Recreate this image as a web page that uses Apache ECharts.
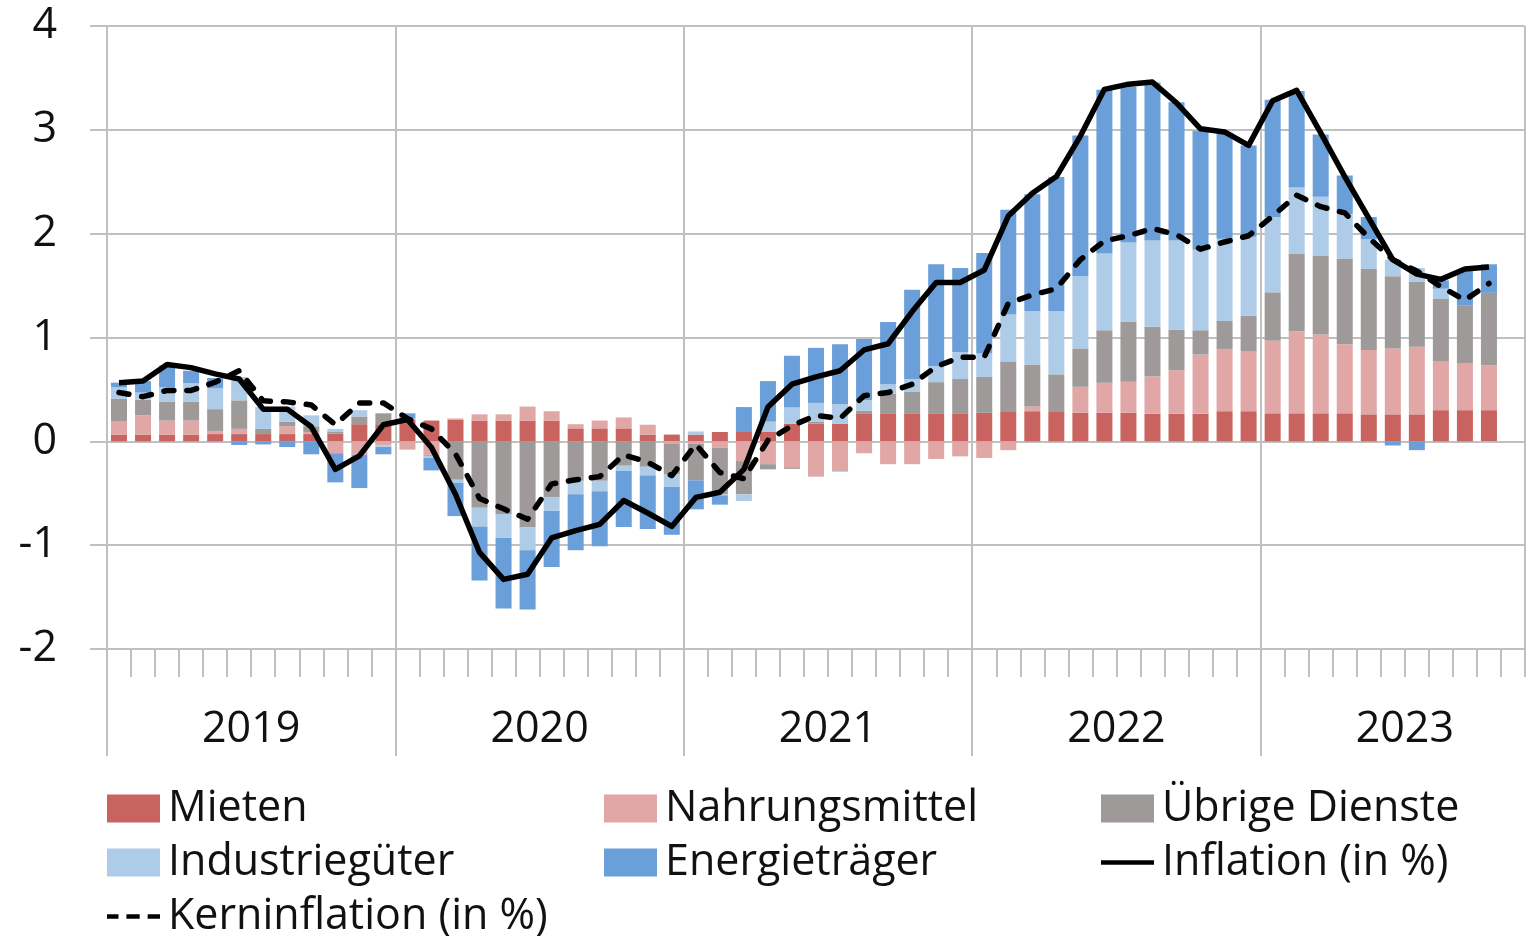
<!DOCTYPE html>
<html>
<head>
<meta charset="utf-8">
<script src="https://cdn.jsdelivr.net/npm/echarts@6/dist/echarts.min.js"></script>
<style>
html, body { margin: 0; padding: 0; background: #fff; }
#chart { width: 1532px; height: 936px; }
</style>
</head>
<body>
<div id="chart"></div>
<script>
// Monatskategorien Jan 2019 - Nov 2023 (letzter Monat leer)
var years = ['2019', '2020', '2021', '2022', '2023'];
var months = [
  '2019-01','2019-02','2019-03','2019-04','2019-05','2019-06','2019-07','2019-08','2019-09','2019-10','2019-11','2019-12',
  '2020-01','2020-02','2020-03','2020-04','2020-05','2020-06','2020-07','2020-08','2020-09','2020-10','2020-11','2020-12',
  '2021-01','2021-02','2021-03','2021-04','2021-05','2021-06','2021-07','2021-08','2021-09','2021-10','2021-11','2021-12',
  '2022-01','2022-02','2022-03','2022-04','2022-05','2022-06','2022-07','2022-08','2022-09','2022-10','2022-11','2022-12',
  '2023-01','2023-02','2023-03','2023-04','2023-05','2023-06','2023-07','2023-08','2023-09','2023-10','2023-11'
];

// Beiträge in Prozentpunkten
var mieten = [
  .065,.065,.065,.065,.07,.07,.07,.07,.07,.075,.165,.165,
  .21,.20,.21,.20,.20,.20,.20,.125,.125,.125,.065,.065,
  .065,.09,.09,.09,.17,.17,.17,.27,.27,.27,.27,.27,
  .275,.29,.29,.29,.275,.275,.275,.265,.265,.265,.29,.29,
  .27,.27,.27,.27,.26,.26,.26,.30,.30,.30
];
var nahrung = [
  .125,.185,.135,.135,.03,.05,0,.075,.02,-.115,-.13,-.04,
  -.08,-.13,.01,.06,.06,.135,.09,.04,.075,.105,.095,-.02,
  -.025,-.06,-.19,-.22,-.25,-.34,-.28,-.115,-.22,-.22,-.17,-.145,
  -.16,-.085,.045,0,.25,.29,.30,.36,.42,.57,.60,.58,
  .70,.79,.76,.665,.62,.635,.65,.47,.455,.43
];
var dienste = [
  .22,.15,.18,.18,.21,.275,.05,.045,.055,.015,.075,.105,
  0,-.01,-.37,-.64,-.70,-.83,-.535,-.38,-.38,-.235,-.245,-.30,
  -.35,-.45,-.32,-.05,-.015,.02,-.01,.025,.19,.21,.30,.33,
  .345,.48,.405,.355,.37,.505,.58,.48,.39,.235,.27,.34,
  .465,.75,.76,.825,.78,.695,.63,.60,.555,.70
];
var industrie = [
  .11,.07,.14,.18,.20,.225,.21,.145,.105,.03,.06,-.015,
  .01,-.02,-.03,-.18,-.23,-.22,-.135,-.13,-.10,-.05,-.085,-.12,
  .03,-.01,-.065,.10,.155,.18,.19,.10,.09,.12,.155,.26,
  .225,.455,.515,.61,.695,.74,.76,.83,.86,.775,.79,.76,
  .725,.635,.565,.43,.285,.16,.13,.10,0,-.01
];
var energie = [
  .045,.11,.21,.12,.10,-.035,-.03,-.055,-.125,-.28,-.32,-.07,
  .05,-.12,-.32,-.52,-.68,-.57,-.54,-.54,-.53,-.54,-.515,-.46,
  -.28,-.09,.24,.39,.50,.53,.575,.59,.60,.86,.98,.81,
  .97,1.005,1.125,1.29,1.355,1.575,1.50,1.52,1.33,1.145,1.025,.88,
  1.13,.93,.60,.37,.215,-.04,-.085,.08,.33,.275
];
var inflation = [
  .565,.58,.74,.71,.65,.60,.31,.31,.14,-.27,-.14,.16,
  .21,-.06,-.51,-1.07,-1.33,-1.28,-.93,-.86,-.80,-.57,-.69,-.82,
  -.54,-.49,-.27,.33,.55,.62,.68,.88,.94,1.25,1.53,1.53,
  1.65,2.17,2.39,2.55,2.94,3.39,3.44,3.46,3.26,3.01,2.98,2.85,
  3.28,3.38,2.97,2.55,2.15,1.75,1.61,1.56,1.66,1.68
];
var kern = [
  .47,.43,.49,.49,.57,.68,.39,.38,.35,.16,.37,.37,
  .22,.12,-.12,-.55,-.65,-.75,-.41,-.37,-.34,-.13,-.20,-.33,
  -.03,-.30,-.36,.01,.15,.25,.22,.44,.47,.55,.72,.81,
  .81,1.33,1.41,1.47,1.75,1.93,1.98,2.05,1.99,1.85,1.92,1.98,
  2.17,2.37,2.26,2.20,1.96,1.75,1.64,1.49,1.36,1.52
];

var FONT = 'Open Sans';
var FONT_SIZE = 43;
var GRID_GREY = '#c0c0c0';

// Jahresachse: Punkte an den Monatsgrenzen, Jahr in der Mitte
var yearAxis = [];
for (var i = 0; i <= months.length; i++) {
  yearAxis.push(i % 12 === 6 ? years[Math.floor(i / 12)] : '');
}

function bar(name, data, color) {
  return {
    name: name, type: 'bar', stack: 'beitrag', data: data,
    barWidth: 16, itemStyle: { color: color }
  };
}

var chart = echarts.init(document.getElementById('chart'));
chart.setOption({
  animation: false,
  textStyle: { fontFamily: FONT },
  grid: { left: 107, right: 7, top: 26, bottom: 287, containLabel: false },
  xAxis: [{
    type: 'category',
    data: months,
    axisLine: { onZero: false, lineStyle: { color: GRID_GREY, width: 2 } },
    axisTick: { show: true, interval: 0, length: 28, lineStyle: { color: GRID_GREY, width: 2 } },
    axisLabel: { show: false },
    splitLine: {
      show: true,
      interval: function (idx) { return idx % 12 === 0; },
      lineStyle: { color: GRID_GREY, width: 2 }
    }
  }, {
    type: 'category',
    position: 'bottom',
    boundaryGap: false,
    data: yearAxis,
    axisLine: { show: false, onZero: false },
    axisTick: {
      show: true, length: 107,
      interval: function (idx) { return idx % 12 === 0; },
      lineStyle: { color: GRID_GREY, width: 2 }
    },
    axisLabel: {
      show: true, interval: 0, margin: 59,
      fontFamily: FONT, fontSize: FONT_SIZE, color: '#111'
    },
    splitLine: { show: false }
  }],
  yAxis: {
    type: 'value',
    min: -2, max: 4, interval: 1,
    axisLine: { show: true, lineStyle: { color: GRID_GREY, width: 2 } },
    axisTick: { show: true, length: 17, lineStyle: { color: GRID_GREY, width: 2 } },
    axisLabel: { margin: 50, fontFamily: FONT, fontSize: FONT_SIZE, color: '#111' },
    splitLine: { lineStyle: { color: GRID_GREY, width: 2 } }
  },
  legend: {
    left: 107, top: 786, width: 1500, padding: 0,
    itemWidth: 53, itemHeight: 28, itemGap: 9,
    textStyle: {
      fontFamily: FONT, fontSize: FONT_SIZE, color: '#111',
      width: 427, lineHeight: 45, padding: [0, 0, 0, 3]
    },
    data: [
      { name: 'Mieten', icon: 'rect' },
      { name: 'Nahrungsmittel', icon: 'rect' },
      { name: 'Übrige Dienste', icon: 'rect' },
      { name: 'Industriegüter', icon: 'rect' },
      { name: 'Energieträger', icon: 'rect' },
      { name: 'Inflation (in %)', icon: 'path://M0,0H60V5H0Z' },
      { name: 'Kerninflation (in %)', icon: 'path://M0,0H13V5H0Z M22,0H37V5H22Z M46,0H60V5H46Z' }
    ]
  },
  series: [
    bar('Mieten', mieten, '#c8635f'),
    bar('Nahrungsmittel', nahrung, '#e1a6a6'),
    bar('Übrige Dienste', dienste, '#9e9a99'),
    bar('Industriegüter', industrie, '#aecbe8'),
    bar('Energieträger', energie, '#6a9fda'),
    {
      name: 'Inflation (in %)', type: 'line', data: inflation, z: 5,
      symbol: 'none', itemStyle: { color: '#000' },
      lineStyle: { color: '#000', width: 5.5, join: 'round' }
    },
    {
      name: 'Kerninflation (in %)', type: 'line', data: kern, z: 5,
      symbol: 'none', itemStyle: { color: '#000' },
      lineStyle: { color: '#000', width: 5.5, type: [10, 13], cap: 'round', join: 'round' }
    }
  ]
});
</script>
</body>
</html>
